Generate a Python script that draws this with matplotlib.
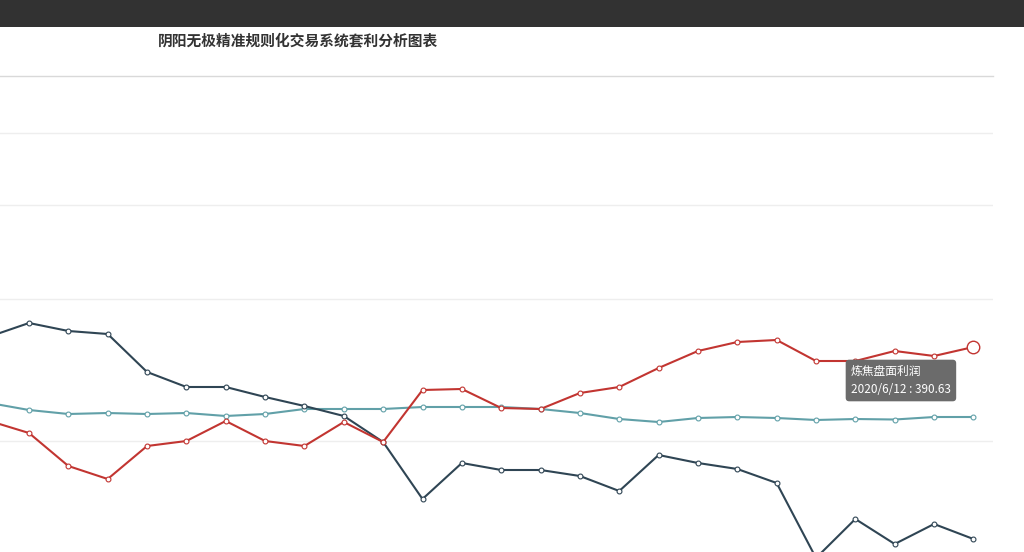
import matplotlib
matplotlib.use("Agg")
import matplotlib.pyplot as plt
from matplotlib.patches import Rectangle

plt.rcParams["font.family"] = ["Noto Sans CJK SC", "DejaVu Sans"]

# trading days, oldest first (the first one sits just off the left edge)
dates = ["2020/5/8", "2020/5/11", "2020/5/12", "2020/5/13", "2020/5/14", "2020/5/15",
         "2020/5/18", "2020/5/19", "2020/5/20", "2020/5/21", "2020/5/22", "2020/5/25",
         "2020/5/26", "2020/5/27", "2020/5/28", "2020/5/29", "2020/6/1", "2020/6/2",
         "2020/6/3", "2020/6/4", "2020/6/5", "2020/6/8", "2020/6/9", "2020/6/10",
         "2020/6/11", "2020/6/12"]

# series values
dark_series = [434.2, 490.3, 457.1, 444.6, 286.7, 224.4, 224.4, 182.8, 145.4, 103.9,
               -4.2, -241.0, -91.4, -120.5, -120.5, -145.4, -207.8, -58.2, -91.4, -116.3,
               -174.5, -486.1, -324.1, -428.0, -344.9, -407.2]
teal_series = [157.9, 128.8, 112.2, 116.3, 112.2, 116.3, 103.9, 112.2, 133.0, 133.0,
               133.0, 141.3, 141.3, 141.3, 133.0, 116.3, 91.4, 78.9, 95.6, 99.7,
               95.6, 87.3, 91.4, 89.3, 99.7, 99.7]
red_series = [83.1, 33.2, -103.9, -157.9, -20.8, 0.0, 83.1, 0.0, -20.8, 78.9,
              -4.2, 211.9, 216.1, 137.1, 133.0, 199.4, 224.4, 303.3, 374.0, 411.3,
              419.7, 332.4, 332.4, 374.0, 353.2, 390.63]

red_name = "炼焦盘面利润"
title = "阴阳无极精准规则化交易系统套利分析图表"
grid_values = [0, 590, 981, 1280]

fig = plt.figure(figsize=(10.24, 5.52), dpi=100)
fig.patch.set_facecolor("white")

# dark page header
fig.add_artist(Rectangle((0, 1 - 27 / 552), 1, 27 / 552, transform=fig.transFigure,
                         facecolor="#323232", edgecolor="none"))

ax = fig.add_axes([0, 0, 993 / 1024, 1 - 76 / 552])
x = list(range(len(dates)))

for series, color in [(teal_series, "#61a0a8"), (dark_series, "#2f4554"), (red_series, "#c23531")]:
    ax.plot(x, series, color=color, lw=1.5, marker="o", ms=3.5,
            markerfacecolor="white", markeredgecolor=color, markeredgewidth=0.8, zorder=3)

ax.plot(x[-1], red_series[-1], marker="o", ms=9, markerfacecolor="white",
        markeredgecolor="#c23531", markeredgewidth=1.0, zorder=4)

ax.set_xlim(1 - 29 / 39.35, 1 + (993 - 29) / 39.35)
ax.set_ylim(-461.2, 1516.6)
ax.set_yticks(grid_values)
ax.set_xticks([])
ax.tick_params(left=False, labelleft=False)
ax.grid(axis="y", color="#eeeeee", lw=1)
for side in ["left", "right", "bottom"]:
    ax.spines[side].set_visible(False)
ax.spines["top"].set_color("#d9d9d9")
ax.spines["top"].set_linewidth(1.0)

fig.text(158 / 1024, 1 - 40 / 552, title, fontsize=10.6, fontweight="bold",
         color="#333333", va="center", ha="left")

# tooltip
fig.text(851 / 1024, 1 - 365 / 552, red_name + "\n" + dates[-1] + " : " + f"{red_series[-1]:.2f}",
         fontsize=8.5, color="white", va="top", ha="left", linespacing=1.5,
         bbox=dict(boxstyle="round,pad=0.45,rounding_size=0.3", facecolor="#6b6b6b",
                   edgecolor="none"))

fig.savefig("out.png", dpi=100)
